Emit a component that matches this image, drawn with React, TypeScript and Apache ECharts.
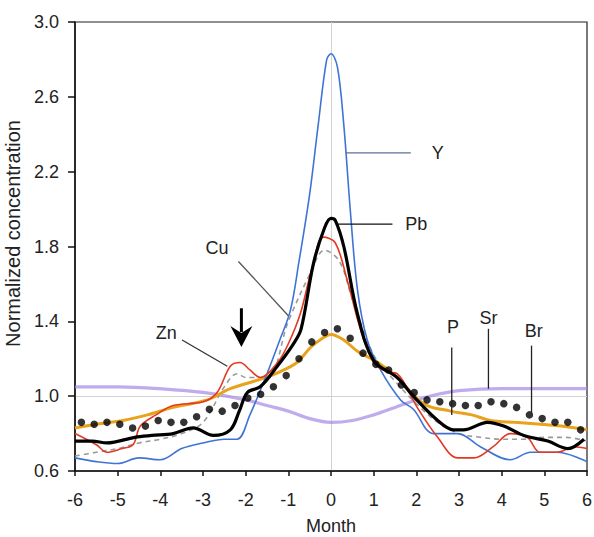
import { useEffect, useRef } from "react";
import * as echarts from "echarts";

// ---- data (months, normalized concentrations) ----
const yMonths = [-6, -5.5, -5, -4.5, -4, -3.5, -3, -2.5, -2.2, -1.9, -1.5, -1.2, -0.95, -0.75, -0.5, -0.3, -0.1, 0, 0.15, 0.3, 0.45, 0.62, 0.85, 1.16, 1.63, 1.93, 2.4, 2.97, 3.5, 4.2, 4.68, 5.3, 6];
const yValues = [0.67, 0.65, 0.64, 0.67, 0.66, 0.72, 0.75, 0.77, 0.77, 0.9, 1.12, 1.3, 1.46, 1.72, 2.08, 2.45, 2.8, 2.83, 2.76, 2.45, 2.0, 1.57, 1.3, 1.14, 0.98, 0.93, 0.8, 0.8, 0.73, 0.66, 0.7, 0.7, 0.65];

const pbMonths = [-6, -5.6, -5.25, -4.6, -4.2, -3.7, -3.23, -2.76, -2.36, -2.15, -1.96, -1.66, -1.26, -0.88, -0.7, -0.41, -0.15, 0, 0.1, 0.3, 0.62, 1.0, 1.55, 1.93, 2.5, 2.87, 3.1, 3.67, 4.05, 4.52, 5.08, 5.55, 5.93];
const pbValues = [0.76, 0.76, 0.75, 0.78, 0.79, 0.8, 0.83, 0.79, 0.82, 0.92, 1.02, 1.05, 1.16, 1.28, 1.36, 1.71, 1.9, 1.95, 1.94, 1.8, 1.44, 1.19, 1.1, 1.0, 0.87, 0.82, 0.82, 0.86, 0.84, 0.79, 0.76, 0.72, 0.77];

const znMonths = [-6, -5.5, -5.25, -4.9, -4.64, -4.47, -4.1, -3.7, -3.0, -2.67, -2.36, -2.13, -1.9, -1.66, -1.25, -1.0, -0.72, -0.45, -0.18, 0.1, 0.38, 0.7, 1.0, 1.3, 1.55, 2.02, 2.5, 2.97, 3.35, 3.8, 4.2, 4.6, 4.9, 5.3, 5.7, 6];
const znValues = [0.8, 0.74, 0.7, 0.72, 0.74, 0.84, 0.9, 0.95, 0.97, 1.02, 1.16, 1.18, 1.14, 1.1, 1.18, 1.28, 1.44, 1.68, 1.85, 1.82, 1.62, 1.35, 1.18, 1.13, 1.12, 0.94, 0.78, 0.67, 0.67, 0.73, 0.8, 0.78, 0.7, 0.7, 0.73, 0.72];

const cuMonths = [-6, -5.5, -5, -4.5, -4, -3.5, -3, -2.5, -2.2, -2, -1.5, -1, -0.5, -0.15, 0.2, 0.5, 1, 1.5, 2, 2.5, 3, 3.5, 4, 4.5, 5, 5.5, 6];
const cuValues = [0.68, 0.7, 0.72, 0.75, 0.77, 0.8, 0.86, 1.05, 1.12, 1.1, 1.1, 1.4, 1.65, 1.78, 1.72, 1.52, 1.22, 1.08, 0.96, 0.86, 0.8, 0.78, 0.77, 0.77, 0.78, 0.78, 0.76];

const pMonths = [-6, -5.5, -4.87, -4.3, -3.7, -2.9, -2.36, -1.66, -1.2, -0.8, -0.48, -0.2, 0, 0.3, 0.62, 1.1, 1.55, 2.17, 2.8, 3.3, 3.74, 4.3, 4.92, 5.4, 6];
const pValues = [0.83, 0.85, 0.87, 0.9, 0.94, 0.98, 1.04, 1.09, 1.13, 1.18, 1.26, 1.31, 1.33, 1.3, 1.24, 1.18, 1.1, 0.96, 0.92, 0.9, 0.87, 0.86, 0.85, 0.84, 0.82];

const srMonths = [-6, -5, -4, -3, -2, -1.5, -1, -0.5, 0, 0.5, 1, 1.5, 2, 2.5, 3, 4, 5, 6];
const srValues = [1.05, 1.05, 1.04, 1.02, 0.98, 0.95, 0.92, 0.88, 0.86, 0.87, 0.9, 0.94, 0.98, 1.01, 1.03, 1.04, 1.04, 1.04];

const brMonths = [-5.85, -5.55, -5.25, -4.95, -4.65, -4.35, -4.05, -3.75, -3.45, -3.15, -2.85, -2.55, -2.25, -1.95, -1.65, -1.35, -1.05, -0.75, -0.45, -0.15, 0.15, 0.45, 0.75, 1.05, 1.35, 1.65, 1.95, 2.25, 2.55, 2.85, 3.15, 3.45, 3.75, 4.05, 4.35, 4.65, 4.95, 5.25, 5.55, 5.85];
const brValues = [0.86, 0.85, 0.86, 0.85, 0.83, 0.84, 0.87, 0.86, 0.86, 0.89, 0.93, 0.92, 0.95, 0.99, 1.01, 1.05, 1.11, 1.2, 1.29, 1.34, 1.36, 1.31, 1.23, 1.17, 1.14, 1.06, 1.02, 0.98, 0.97, 0.96, 0.95, 0.95, 0.97, 0.96, 0.94, 0.9, 0.88, 0.86, 0.86, 0.82];

const xMin = -6;
const xMax = 6;
const yMin = 0.6;
const yMax = 3.0;
const yStep = 0.4;

// annotations in data coordinates
const leaders = [
  { from: [0.34, 2.3], to: [1.87, 2.3], color: "#5a6f9a" },
  { from: [0.16, 1.92], to: [1.44, 1.92], color: "#111" },
  { from: [-2.17, 1.72], to: [-1.0, 1.43], color: "#555" },
  { from: [-3.49, 1.3], to: [-2.43, 1.16], color: "#333" },
  { from: [2.83, 1.26], to: [2.83, 0.9], color: "#222" },
  { from: [3.69, 1.36], to: [3.69, 1.04], color: "#222" },
  { from: [4.7, 1.27], to: [4.7, 0.91], color: "#222" },
];
const labels = [
  { text: "Y", at: [2.5, 2.3] },
  { text: "Pb", at: [2.0, 1.92] },
  { text: "Cu", at: [-2.67, 1.79] },
  { text: "Zn", at: [-3.86, 1.34] },
  { text: "P", at: [2.86, 1.37] },
  { text: "Sr", at: [3.69, 1.42] },
  { text: "Br", at: [4.75, 1.35] },
];
const arrow = { x: -2.1, top: 1.47, headBase: 1.375, tip: 1.263 };

const pairs = (xs: number[], ys: number[]) => xs.map((x, i) => [x, ys[i]]);
const FONT = "'Liberation Sans', Arial, sans-serif";

export default function App() {
  const ref = useRef<HTMLDivElement>(null);
  useEffect(() => {
    const chart = echarts.init(ref.current!, null, { renderer: "svg" });
    const lineSeries = (name: string, xs: number[], ys: number[], color: string, width: number, extra: any = {}) => ({
      name,
      type: "line",
      data: pairs(xs, ys),
      smooth: 0.35,
      showSymbol: false,
      symbol: "none",
      color,
      lineStyle: { color, width, ...(extra.lineStyle || {}) },
      z: extra.z ?? 2,
      silent: true,
    });
    chart.setOption({
      animation: false,
      backgroundColor: "#ffffff",
      grid: {
        left: 75,
        right: 7,
        top: 22,
        bottom: 66,
        outerBoundsMode: "none",
        containLabel: false,
        show: true,
        borderColor: "#222",
        borderWidth: 1.2,
        backgroundColor: "transparent",
      },
      xAxis: {
        type: "value",
        min: xMin,
        max: xMax,
        interval: 1,
        name: "Month",
        nameLocation: "middle",
        nameGap: 46,
        nameTextStyle: { fontFamily: FONT, fontSize: 18, color: "#222" },
        axisLine: { show: true, onZero: false, lineStyle: { color: "#111", width: 1.5 } },
        axisTick: { show: true, length: 5, lineStyle: { color: "#111", width: 1.5 } },
        axisLabel: { fontFamily: FONT, fontSize: 18, color: "#222", margin: 20 },
        splitLine: { show: false },
      },
      yAxis: {
        type: "value",
        min: yMin,
        max: yMax,
        interval: yStep,
        name: "Normalized concentration",
        nameLocation: "middle",
        nameGap: 48,
        nameTextStyle: { fontFamily: FONT, fontSize: 20, color: "#222", padding: [0, 0, 0, 26] },
        axisLine: { show: true, onZero: false, lineStyle: { color: "#111", width: 1.5 } },
        axisTick: { show: true, length: 7, lineStyle: { color: "#111", width: 1.5 } },
        axisLabel: { fontFamily: FONT, fontSize: 18, color: "#222", margin: 16, formatter: (v: number) => v.toFixed(1) },
        splitLine: { show: false },
      },
      series: [
        lineSeries("Sr", srMonths, srValues, "rgba(165,135,228,0.7)", 3.2, { z: 1 }),
        {
          ...lineSeries("Cu", cuMonths, cuValues, "#9a9a9a", 1.6, { lineStyle: { type: [5, 4] }, z: 2 }),
          markLine: {
            silent: true,
            symbol: "none",
            label: { show: false },
            z: 0,
            lineStyle: { color: "#d2d2d2", width: 1, type: "solid", opacity: 1 },
            data: [{ xAxis: 0 }, { yAxis: 1.0 }],
          },
        },
        lineSeries("P", pMonths, pValues, "#e9a21c", 3, { z: 3 }),
        lineSeries("Y", yMonths, yValues, "#3f74d6", 1.6, { z: 4 }),
        lineSeries("Zn", znMonths, znValues, "#e23a22", 1.6, { z: 5 }),
        lineSeries("Pb", pbMonths, pbValues, "#000000", 3.2, { z: 6 }),
        {
          name: "Br",
          type: "scatter",
          data: pairs(brMonths, brValues),
          symbol: "circle",
          symbolSize: 7.5,
          itemStyle: { color: "#000" },
          z: 7,
          silent: true,
        },
      ],
    });

    const px = (p: number[]) => chart.convertToPixel({ gridIndex: 0 }, p) as number[];
    const graphics: any[] = [];
    leaders.forEach((l) => {
      const a = px(l.from);
      const b = px(l.to);
      graphics.push({
        type: "line",
        shape: { x1: a[0], y1: a[1], x2: b[0], y2: b[1] },
        style: { stroke: l.color, lineWidth: 1.3 },
        z: 100,
        silent: true,
      });
    });
    labels.forEach((t) => {
      const p = px(t.at);
      graphics.push({
        type: "text",
        x: p[0],
        y: p[1],
        style: { text: t.text, fontFamily: FONT, fontSize: 18, fill: "#222", align: "center", verticalAlign: "middle" },
        z: 100,
        silent: true,
      });
    });
    const aTop = px([arrow.x, arrow.top]);
    const aBase = px([arrow.x, arrow.headBase]);
    const aTip = px([arrow.x, arrow.tip]);
    graphics.push({
      type: "line",
      shape: { x1: aTop[0], y1: aTop[1], x2: aBase[0], y2: aBase[1] + 6 },
      style: { stroke: "#000", lineWidth: 3 },
      z: 100,
      silent: true,
    });
    graphics.push({
      type: "polygon",
      shape: {
        points: [
          [aBase[0] - 11, aBase[1]],
          [aBase[0], aBase[1] + 7],
          [aBase[0] + 11, aBase[1]],
          [aTip[0], aTip[1]],
        ],
      },
      style: { fill: "#000" },
      z: 100,
      silent: true,
    });
    chart.setOption({ graphic: graphics });

    return () => chart.dispose();
  }, []);
  return <div ref={ref} style={{ position: "fixed", left: 0, top: 0, width: 594, height: 537 }} />;
}
